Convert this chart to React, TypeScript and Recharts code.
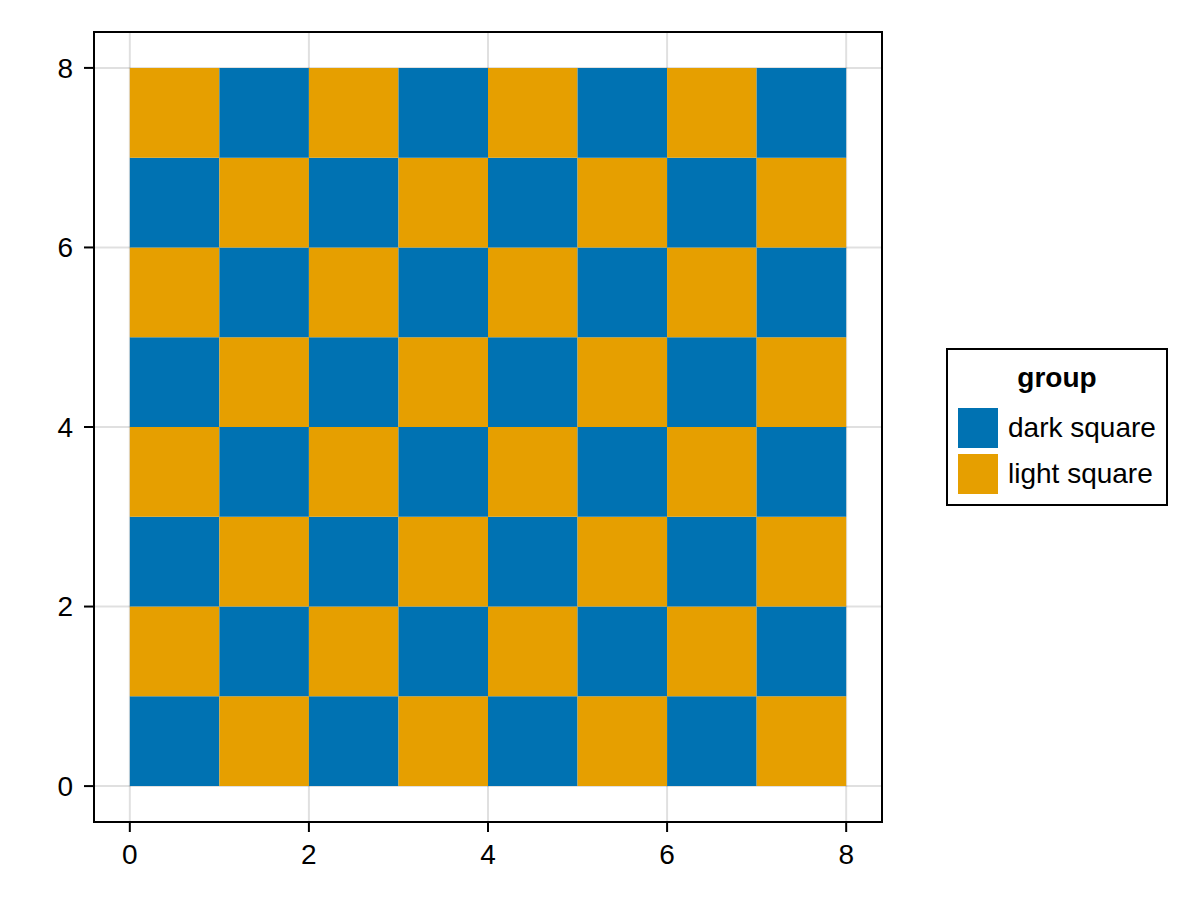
import React from "react";
import {ScatterChart, CartesianGrid, XAxis, YAxis, Scatter, ReferenceArea} from 'recharts';

// one string per row, bottom row first; D = dark square, L = light square
const boardRows = [
    "DLDLDLDL",
    "LDLDLDLD",
    "DLDLDLDL",
    "LDLDLDLD",
    "DLDLDLDL",
    "LDLDLDLD",
    "DLDLDLDL",
    "LDLDLDLD",
];
const groupNames = ["dark square", "light square"];
const groupColors = ["#0072B2", "#E69F00"];
const axisTicks = [0, 2, 4, 6, 8];
const axisDomain = [-0.4, 8.4];

const cells = boardRows.flatMap((row, r) =>
    row.split("").map((g, c) => ({x: c, y: r, group: g === "D" ? 0 : 1}))
);

const FONT = "'Liberation Sans', Arial, sans-serif";

const XTick = (props: any) => (
    <text x={props.x} y={props.y} dy="0.71em" textAnchor="middle"
          fill="#000" fontSize={28} fontFamily={FONT}>{props.payload.value}</text>
);

const YTick = (props: any) => (
    <text x={props.x} y={props.y} dy="0.355em" textAnchor="end"
          fill="#000" fontSize={28} fontFamily={FONT}>{props.payload.value}</text>
);

const GroupLegend = () => (
    <div style={{
        position: "absolute", left: 946, top: 348, width: 218, height: 154,
        border: "2px solid #000", background: "#fff",
        fontFamily: FONT, fontSize: 28, color: "#000", lineHeight: "normal",
    }}>
        <div style={{fontWeight: "bold", textAlign: "center", marginTop: 12, height: 36}}>group</div>
        {groupNames.map((name, i) => (
            <div key={name} style={{display: "flex", alignItems: "center", marginLeft: 10, marginTop: i === 0 ? 10 : 6, height: 40}}>
                <div style={{width: 40, height: 40, background: groupColors[i]}}/>
                <span style={{marginLeft: 10}}>{name}</span>
            </div>
        ))}
    </div>
);

const App = () => {
    return (
        <div style={{position: "absolute", left: 0, top: 0, width: 1200, height: 900, background: "#fff"}}>
            <ScatterChart width={1200} height={900}
                          margin={{top: 32, right: 318, left: 34, bottom: 18}}>
                <CartesianGrid xAxisId="b" yAxisId="l" stroke="#000" strokeOpacity={0.12} strokeWidth={2}
                               horizontalValues={axisTicks} verticalValues={axisTicks}/>
                <XAxis xAxisId="b" type="number" dataKey="x" domain={axisDomain} ticks={axisTicks}
                       allowDataOverflow height={60} tick={<XTick/>} tickSize={10} tickMargin={12}
                       axisLine={false} tickLine={{stroke: "#000", strokeWidth: 2}}/>
                <YAxis yAxisId="l" type="number" dataKey="y" domain={axisDomain} ticks={axisTicks}
                       allowDataOverflow width={60} tick={<YTick/>} tickSize={10} tickMargin={11}
                       axisLine={false} tickLine={{stroke: "#000", strokeWidth: 2}}/>
                {cells.map((c, i) => (
                    <ReferenceArea key={i} xAxisId="b" yAxisId="l"
                                   x1={c.x} x2={c.x + 1} y1={c.y} y2={c.y + 1}
                                   fill={groupColors[c.group]} fillOpacity={1} stroke="none"
                                   ifOverflow="visible"/>
                ))}
                {/* axes frame */}
                <ReferenceArea xAxisId="b" yAxisId="l" x1={axisDomain[0]} x2={axisDomain[1]}
                               y1={axisDomain[0]} y2={axisDomain[1]} fill="none" fillOpacity={0}
                               stroke="#000" strokeWidth={2} strokeOpacity={1} ifOverflow="visible"/>
                <Scatter xAxisId="b" yAxisId="l" data={cells} shape={() => null} isAnimationActive={false}/>
            </ScatterChart>
            <GroupLegend/>
        </div>
    );
}

export default App;
